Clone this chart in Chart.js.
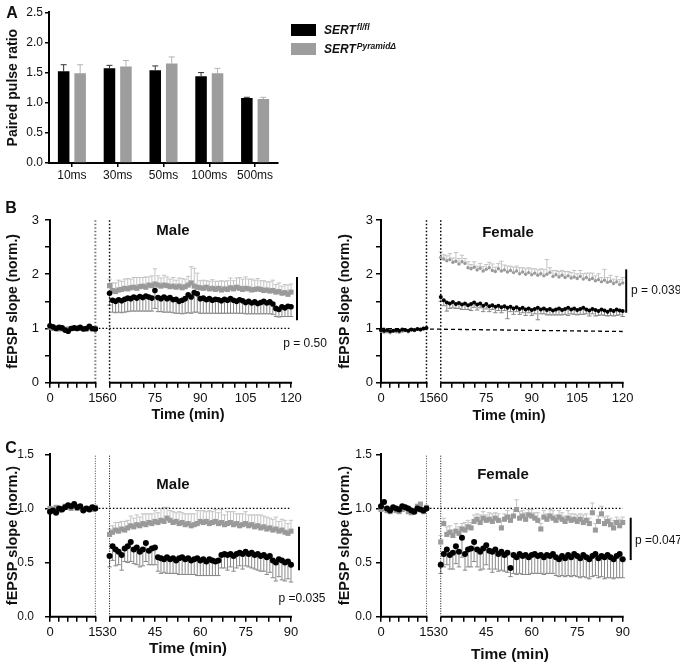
<!DOCTYPE html>
<html>
<head>
<meta charset="utf-8">
<title>Paired pulse ratio and fEPSP slope</title>
<script src="https://cdn.jsdelivr.net/npm/chart.js@4.4.1/dist/chart.umd.min.js"></script>
<style>
  html, body { margin: 0; background: #fff; }
  #fig { position: relative; width: 680px; height: 662px; overflow: hidden;
         font-family: "Liberation Sans", Arial, sans-serif; color: #111; }
  #fig canvas { position: absolute; }
  .c { position: absolute; white-space: nowrap; transform: translate(-50%, -50%); line-height: 1; }
  .l { position: absolute; white-space: nowrap; transform: translateY(-50%); line-height: 1; }
  .panel { font-size: 16px; font-weight: bold; }
  .sex { font-size: 15px; font-weight: bold; }
  .time { font-weight: bold; }
  .p { font-size: 12px; }
  #legend { position: absolute; left: 291px; top: 24px; }
  .leg-item { display: flex; align-items: center; height: 12px; margin-bottom: 7px; }
  .leg-box { width: 25px; height: 12px; margin-right: 8px; }
  .leg-text { font: italic bold 12px "Liberation Sans", Arial, sans-serif; }
  .leg-text span { font-size: 8.5px; position: relative; top: -4px; margin-left: 1px; }
</style>
</head>
<body>
<div id="fig">
  <canvas id="chartA"  width="300" height="190" style="left:0;top:0"></canvas>
  <canvas id="chartBm" width="340" height="235" style="left:0;top:190px"></canvas>
  <canvas id="chartBf" width="350" height="235" style="left:330px;top:190px"></canvas>
  <canvas id="chartCm" width="340" height="237" style="left:0;top:425px"></canvas>
  <canvas id="chartCf" width="350" height="237" style="left:330px;top:425px"></canvas>

  <div id="legend"></div>

  <div class="c panel" style="left:12px;top:13px">A</div>
  <div class="c panel" style="left:11px;top:208px">B</div>
  <div class="c panel" style="left:11px;top:448px">C</div>

  <div class="c sex" style="left:173px;top:229px">Male</div>
  <div class="c sex" style="left:508px;top:231px">Female</div>
  <div class="c sex" style="left:173px;top:483px">Male</div>
  <div class="c sex" style="left:503px;top:473px">Female</div>

  <div class="c time" style="left:188px;top:414px;font-size:14.5px">Time (min)</div>
  <div class="c time" style="left:509px;top:415px;font-size:14.5px">Time (min)</div>
  <div class="c time" style="left:188px;top:648px;font-size:15.5px">Time (min)</div>
  <div class="c time" style="left:510px;top:654px;font-size:15.5px">Time (min)</div>

  <div class="c p" style="left:305px;top:343px">p = 0.50</div>
  <div class="l p" style="left:631px;top:290px">p = 0.039</div>
  <div class="c p" style="left:302px;top:598px">p =0.035</div>
  <div class="l p" style="left:635px;top:540px">p =0.047</div>
</div>

<script>
'use strict';

// ── DATA: PANEL A (paired pulse ratio) ───────────────────────

const INTERVALS  = ['10ms', '30ms', '50ms', '100ms', '500ms'];
const PPR_FL     = [1.52, 1.57, 1.54, 1.44, 1.08];
const PPR_FL_SEM = [0.11, 0.05, 0.07, 0.06, 0.01];
const PPR_KO     = [1.49, 1.60, 1.65, 1.49, 1.06];
const PPR_KO_SEM = [0.14, 0.10, 0.11, 0.08, 0.03];

const GENOTYPES = [
  { name: 'SERT', sup: 'fl/fl',    color: '#000000' },
  { name: 'SERT', sup: 'PyramidΔ', color: '#9d9d9d' },
];

// ── DATA: TIME AXES ──────────────────────────────────────────

const BASE_T = [0, 1, 2, 3, 4, 5, 6, 7, 8, 9, 10, 11, 12, 13, 14, 15];
const POST_T_B = [60, 61, 62, 63, 64, 65, 66, 67, 68, 69, 70, 71, 72, 73, 74, 75, 76, 77, 78, 79, 80,
  81, 82, 83, 84, 85, 86, 87, 88, 89, 90, 91, 92, 93, 94, 95, 96, 97, 98, 99, 100,
  101, 102, 103, 104, 105, 106, 107, 108, 109, 110, 111, 112, 113, 114, 115, 116, 117, 118, 119, 120];
const POST_T_C = [30, 31, 32, 33, 34, 35, 36, 37, 38, 39, 40, 41, 42, 43, 44, 45, 46, 47, 48, 49, 50,
  51, 52, 53, 54, 55, 56, 57, 58, 59, 60, 61, 62, 63, 64, 65, 66, 67, 68, 69, 70,
  71, 72, 73, 74, 75, 76, 77, 78, 79, 80, 81, 82, 83, 84, 85, 86, 87, 88, 89, 90];

const BASE_XTICKS = [0, 3, 6, 9, 12, 15];
const B_XTICKS = [60, 63.75, 67.5, 71.25, 75, 78.75, 82.5, 86.25, 90, 93.75, 97.5, 101.25, 105, 108.75, 112.5, 116.25, 120];
const C_XTICKS = [30, 33.75, 37.5, 41.25, 45, 48.75, 52.5, 56.25, 60, 63.75, 67.5, 71.25, 75, 78.75, 82.5, 86.25, 90];
const B_XLABELS = [0, 15, 60, 75, 90, 105, 120];
const C_XLABELS = [0, 15, 30, 45, 60, 75, 90];

// ── DATA: PANEL B, MALE ──────────────────────────────────────

const BM_FL_BASE = [1.05, 1.03, 1.00, 1.02, 1.01, 0.97, 0.95, 1.00, 1.01, 1.00, 1.02, 0.99, 1.00, 1.04, 1.00, 0.99];
const BM_KO_BASE = [1.02, 1.00, 1.01, 0.99, 1.00, 0.98, 0.99, 1.00, 1.00, 1.01, 1.00, 1.00, 0.99, 1.01, 0.99, 1.00];
const BM_FL_POST = [
  1.65, 1.52, 1.50, 1.53, 1.51, 1.54, 1.56, 1.55, 1.58, 1.56,
  1.59, 1.57, 1.60, 1.58, 1.56, 1.70, 1.57, 1.55, 1.58, 1.55,
  1.57, 1.53, 1.54, 1.50, 1.52, 1.55, 1.62, 1.58, 1.66, 1.64,
  1.55, 1.56, 1.53, 1.55, 1.52, 1.54, 1.53, 1.51, 1.54, 1.52,
  1.55, 1.52, 1.50, 1.53, 1.51, 1.48, 1.50, 1.47, 1.49, 1.46,
  1.48, 1.50, 1.47, 1.49, 1.45, 1.37, 1.35, 1.40, 1.38, 1.41, 1.40];
const BM_FL_SEM = [
  0.22, 0.22, 0.21, 0.23, 0.22, 0.24, 0.25, 0.23, 0.26, 0.24,
  0.27, 0.25, 0.28, 0.26, 0.24, 0.33, 0.26, 0.24, 0.28, 0.25,
  0.27, 0.24, 0.26, 0.22, 0.25, 0.27, 0.33, 0.30, 0.36, 0.34,
  0.27, 0.28, 0.25, 0.27, 0.24, 0.26, 0.25, 0.23, 0.26, 0.24,
  0.27, 0.24, 0.22, 0.25, 0.23, 0.21, 0.23, 0.20, 0.22, 0.19,
  0.21, 0.23, 0.20, 0.22, 0.19, 0.15, 0.14, 0.18, 0.16, 0.19, 0.18];
const BM_KO_POST = [
  1.79, 1.70, 1.68, 1.71, 1.72, 1.74, 1.73, 1.75, 1.76, 1.74,
  1.77, 1.78, 1.76, 1.80, 1.79, 1.82, 1.80, 1.78, 1.80, 1.79,
  1.77, 1.78, 1.76, 1.78, 1.75, 1.77, 1.80, 1.84, 1.78, 1.76,
  1.75, 1.74, 1.76, 1.73, 1.74, 1.72, 1.74, 1.71, 1.73, 1.72,
  1.75, 1.73, 1.76, 1.74, 1.72, 1.74, 1.73, 1.71, 1.72, 1.73,
  1.72, 1.70, 1.71, 1.69, 1.70, 1.67, 1.68, 1.65, 1.66, 1.63, 1.67];
const BM_KO_SEM = [
  0.12, 0.14, 0.16, 0.18, 0.15, 0.17, 0.19, 0.16, 0.18, 0.20,
  0.17, 0.16, 0.19, 0.15, 0.18, 0.28, 0.17, 0.15, 0.18, 0.16,
  0.14, 0.16, 0.13, 0.15, 0.17, 0.14, 0.16, 0.30, 0.33, 0.26,
  0.13, 0.15, 0.12, 0.14, 0.16, 0.15, 0.13, 0.17, 0.14, 0.16,
  0.18, 0.15, 0.17, 0.20, 0.19, 0.21, 0.18, 0.20, 0.17, 0.19,
  0.16, 0.18, 0.15, 0.17, 0.19, 0.14, 0.16, 0.13, 0.15, 0.17, 0.15];
const BM_REF_T = [15, 120];
const BM_REF_V = [1.0, 1.0];
const BM_PBAR  = [1.95, 1.15];

// ── DATA: PANEL B, FEMALE ────────────────────────────────────

const BF_FL_BASE = [0.97, 0.96, 0.97, 0.95, 0.96, 0.97, 0.96, 0.98, 0.97, 0.96, 0.98, 0.97, 0.99, 0.98, 1.00, 1.01];
const BF_KO_BASE = [0.95, 0.93, 0.94, 0.92, 0.95, 0.94, 0.93, 0.95, 0.96, 0.94, 0.97, 0.96, 0.98, 0.97, 0.99, 1.02];
const BF_FL_POST = [
  1.58, 1.52, 1.48, 1.46, 1.49, 1.45, 1.47, 1.44, 1.46, 1.43,
  1.45, 1.48, 1.44, 1.46, 1.42, 1.45, 1.41, 1.43, 1.40, 1.42,
  1.39, 1.41, 1.38, 1.40, 1.37, 1.39, 1.36, 1.38, 1.35, 1.37,
  1.34, 1.36, 1.38, 1.35, 1.37, 1.34, 1.36, 1.33, 1.35, 1.37,
  1.34, 1.36, 1.38, 1.35, 1.37, 1.34, 1.36, 1.38, 1.35, 1.33,
  1.36, 1.34, 1.32, 1.35, 1.33, 1.31, 1.34, 1.32, 1.35, 1.33, 1.32];
const BF_FL_SEM = [
  0.08, 0.10, 0.16, 0.09, 0.11, 0.08, 0.10, 0.09, 0.11, 0.08,
  0.12, 0.09, 0.10, 0.08, 0.11, 0.09, 0.10, 0.08, 0.11, 0.09,
  0.10, 0.08, 0.20, 0.09, 0.11, 0.08, 0.10, 0.09, 0.11, 0.08,
  0.10, 0.09, 0.22, 0.08, 0.10, 0.09, 0.11, 0.08, 0.10, 0.12,
  0.09, 0.10, 0.14, 0.08, 0.11, 0.09, 0.10, 0.12, 0.08, 0.10,
  0.09, 0.11, 0.08, 0.10, 0.09, 0.08, 0.10, 0.09, 0.11, 0.08, 0.10];
const BF_KO_POST = [
  2.31, 2.28, 2.25, 2.27, 2.22, 2.24, 2.19, 2.23, 2.20, 2.12,
  2.10, 2.13, 2.08, 2.11, 2.06, 2.09, 2.12, 2.07, 2.05, 2.10,
  2.06, 2.08, 2.04, 2.07, 2.03, 2.06, 2.01, 2.04, 2.00, 2.03,
  1.99, 2.02, 1.98, 2.01, 1.97, 2.00, 2.03, 1.96, 1.99, 1.95,
  1.98, 1.94, 1.97, 1.93, 1.95, 1.92, 1.96, 1.91, 1.94, 1.90,
  1.92, 1.88, 1.90, 1.86, 1.89, 1.85, 1.87, 1.83, 1.86, 1.81, 1.84];
const BF_KO_SEM = [
  0.10, 0.08, 0.09, 0.11, 0.08, 0.16, 0.10, 0.12, 0.09, 0.11,
  0.08, 0.10, 0.07, 0.09, 0.08, 0.09, 0.10, 0.12, 0.08, 0.10,
  0.18, 0.09, 0.11, 0.08, 0.10, 0.09, 0.11, 0.08, 0.10, 0.09,
  0.11, 0.08, 0.10, 0.09, 0.12, 0.27, 0.09, 0.11, 0.08, 0.10,
  0.09, 0.11, 0.08, 0.10, 0.12, 0.09, 0.11, 0.10, 0.08, 0.12,
  0.10, 0.09, 0.11, 0.08, 0.20, 0.09, 0.11, 0.08, 0.10, 0.09, 0.10];
const BF_REF_T = [0, 120];
const BF_REF_V = [1.0, 0.944];
const BF_PBAR  = [2.09, 1.29];

// ── DATA: PANEL C, MALE ──────────────────────────────────────

const CM_FL_BASE = [0.97, 0.98, 0.96, 1.00, 0.99, 1.01, 1.03, 1.02, 1.04, 1.01, 1.02, 0.98, 1.00, 0.99, 1.01, 1.00];
const CM_KO_BASE = [1.00, 0.99, 1.01, 0.98, 1.00, 1.02, 1.01, 1.00, 1.02, 1.00, 1.01, 0.99, 1.00, 1.00, 0.99, 1.01];
const CM_FL_POST = [
  0.56, 0.65, 0.62, 0.60, 0.57, 0.63, 0.65, 0.69, 0.62, 0.64,
  0.60, 0.62, 0.68, 0.61, 0.63, 0.64, 0.55, 0.54, 0.53, 0.55,
  0.53, 0.54, 0.52, 0.54, 0.55, 0.53, 0.54, 0.52, 0.53, 0.54,
  0.52, 0.53, 0.51, 0.53, 0.52, 0.51, 0.52, 0.57, 0.58, 0.57,
  0.58, 0.56, 0.58, 0.59, 0.58, 0.60, 0.58, 0.59, 0.57, 0.58,
  0.56, 0.57, 0.55, 0.56, 0.52, 0.50, 0.53, 0.52, 0.50, 0.51, 0.48];
const CM_FL_SEM = [
  0.10, 0.13, 0.15, 0.12, 0.14, 0.12, 0.15, 0.18, 0.13, 0.16,
  0.14, 0.15, 0.17, 0.13, 0.15, 0.16, 0.13, 0.14, 0.12, 0.15,
  0.13, 0.14, 0.12, 0.15, 0.16, 0.14, 0.15, 0.13, 0.14, 0.16,
  0.14, 0.15, 0.13, 0.15, 0.14, 0.13, 0.14, 0.12, 0.13, 0.14,
  0.12, 0.14, 0.13, 0.12, 0.14, 0.13, 0.12, 0.14, 0.13, 0.15,
  0.14, 0.15, 0.16, 0.15, 0.16, 0.17, 0.16, 0.18, 0.17, 0.16, 0.16];
const CM_KO_POST = [
  0.76, 0.78, 0.80, 0.79, 0.81, 0.80, 0.82, 0.84, 0.83, 0.85,
  0.84, 0.86, 0.85, 0.87, 0.86, 0.88, 0.87, 0.89, 0.88, 0.91,
  0.89, 0.87, 0.88, 0.86, 0.87, 0.85, 0.86, 0.84, 0.85, 0.86,
  0.88, 0.87, 0.88, 0.86, 0.87, 0.88, 0.86, 0.87, 0.85, 0.86,
  0.87, 0.85, 0.86, 0.84, 0.85, 0.86, 0.84, 0.85, 0.83, 0.84,
  0.82, 0.83, 0.81, 0.82, 0.80, 0.81, 0.79, 0.80, 0.78, 0.77, 0.79];
const CM_KO_SEM = [
  0.05, 0.06, 0.07, 0.08, 0.07, 0.08, 0.07, 0.09, 0.08, 0.09,
  0.08, 0.09, 0.10, 0.08, 0.09, 0.10, 0.09, 0.11, 0.13, 0.10,
  0.09, 0.10, 0.08, 0.11, 0.09, 0.10, 0.09, 0.11, 0.10, 0.12,
  0.10, 0.11, 0.09, 0.12, 0.10, 0.11, 0.10, 0.12, 0.09, 0.11,
  0.10, 0.12, 0.09, 0.11, 0.10, 0.11, 0.10, 0.09, 0.11, 0.10,
  0.12, 0.10, 0.11, 0.09, 0.10, 0.11, 0.09, 0.10, 0.11, 0.09, 0.10];
const CM_REF_T = [15, 90];
const CM_REF_V = [1.0, 1.0];
const CM_PBAR  = [0.83, 0.43];

// ── DATA: PANEL C, FEMALE ────────────────────────────────────

const CF_FL_BASE = [1.02, 1.06, 1.00, 0.98, 1.01, 1.00, 0.99, 1.02, 1.01, 1.00, 0.98, 0.97, 1.00, 0.99, 0.98, 1.00];
const CF_KO_BASE = [0.99, 1.00, 0.98, 0.97, 1.00, 0.98, 0.97, 0.99, 1.00, 0.97, 0.96, 0.98, 1.02, 1.04, 0.97, 1.01];
const CF_FL_POST = [
  0.48, 0.58, 0.62, 0.57, 0.59, 0.65, 0.60, 0.73, 0.58, 0.62,
  0.63, 0.69, 0.62, 0.60, 0.63, 0.66, 0.61, 0.60, 0.62, 0.58,
  0.60, 0.57, 0.59, 0.45, 0.57, 0.55, 0.58, 0.56, 0.57, 0.55,
  0.57, 0.58, 0.56, 0.57, 0.55, 0.57, 0.56, 0.58, 0.55, 0.53,
  0.56, 0.54, 0.57, 0.55, 0.58, 0.56, 0.54, 0.57, 0.55, 0.53,
  0.56, 0.58, 0.54, 0.56, 0.55, 0.57, 0.55, 0.53, 0.56, 0.58, 0.53];
const CF_FL_SEM = [
  0.08, 0.12, 0.14, 0.13, 0.15, 0.16, 0.14, 0.18, 0.15, 0.16,
  0.17, 0.18, 0.16, 0.17, 0.19, 0.18, 0.17, 0.19, 0.18, 0.16,
  0.17, 0.15, 0.18, 0.08, 0.17, 0.16, 0.18, 0.17, 0.18, 0.16,
  0.17, 0.18, 0.16, 0.17, 0.16, 0.17, 0.16, 0.18, 0.17, 0.16,
  0.18, 0.17, 0.19, 0.18, 0.20, 0.19, 0.18, 0.20, 0.19, 0.18,
  0.19, 0.20, 0.18, 0.19, 0.20, 0.21, 0.19, 0.18, 0.20, 0.22, 0.17];
const CF_KO_POST = [
  0.69, 0.86, 0.76, 0.78, 0.75, 0.79, 0.77, 0.81, 0.80, 0.83,
  0.82, 0.88, 0.90, 0.87, 0.91, 0.89, 0.90, 0.88, 0.91, 0.89,
  0.82, 0.90, 0.92, 0.89, 0.93, 0.99, 0.91, 0.93, 0.90, 0.94,
  0.93, 0.91, 0.89, 0.81, 0.92, 0.90, 0.93, 0.91, 0.89, 0.92,
  0.90, 0.88, 0.91, 0.89, 0.90, 0.88, 0.90, 0.87, 0.89, 0.86,
  0.96, 0.80, 0.88, 0.95, 0.86, 0.88, 0.85, 0.82, 0.87, 0.84, 0.87];
const CF_KO_SEM = [
  0.06, 0.05, 0.07, 0.06, 0.05, 0.07, 0.06, 0.05, 0.07, 0.06,
  0.05, 0.06, 0.05, 0.07, 0.06, 0.05, 0.06, 0.07, 0.05, 0.06,
  0.07, 0.05, 0.06, 0.05, 0.06, 0.09, 0.06, 0.05, 0.06, 0.05,
  0.06, 0.05, 0.07, 0.05, 0.06, 0.05, 0.06, 0.07, 0.05, 0.06,
  0.06, 0.05, 0.07, 0.06, 0.05, 0.06, 0.05, 0.07, 0.06, 0.05,
  0.09, 0.06, 0.05, 0.07, 0.06, 0.05, 0.06, 0.07, 0.05, 0.06, 0.05];
const CF_REF_T = [15, 90];
const CF_REF_V = [1.0, 1.0];
const CF_PBAR  = [0.914, 0.523];

// ── DEFAULTS ─────────────────────────────────────────────────

Chart.defaults.font.family = '"Liberation Sans", Arial, sans-serif';
Chart.defaults.color = '#111';

const GAP = 4.7;          // blank minutes drawn between the baseline and the post segment
const INK = '#000000';
const GREY = '#9a9a9a';

// ── PLUGINS ──────────────────────────────────────────────────

// one-sided SEM bars, read from dataset.sem
const errorBars = {
  id: 'errorBars',
  beforeDatasetsDraw(chart) {
    const ctx = chart.ctx;
    chart.data.datasets.forEach((ds, di) => {
      if (!ds.sem) return;
      const meta = chart.getDatasetMeta(di);
      const ys = chart.scales[meta.yAxisID];
      ctx.save();
      ctx.strokeStyle = ds.errColor;
      ctx.lineWidth = 1;
      meta.data.forEach((el, i) => {
        const s = ds.sem[i];
        if (s == null) return;
        const d = ds.data[i];
        const v = typeof d === 'object' ? d.y : d;
        const y1 = ys.getPixelForValue(v + ds.errDir * s);
        ctx.beginPath();
        ctx.moveTo(el.x, el.y);
        ctx.lineTo(el.x, y1);
        ctx.moveTo(el.x - ds.capW, y1);
        ctx.lineTo(el.x + ds.capW, y1);
        ctx.stroke();
      });
      ctx.restore();
    });
  },
};

// x axis split in two pieces, plus the significance bar at the right
const brokenAxis = {
  id: 'brokenAxis',
  afterDraw(chart, args, opts) {
    const { ctx, chartArea } = chart;
    const xs = chart.scales.x, ys = chart.scales.y;
    ctx.save();
    ctx.strokeStyle = INK;
    ctx.lineWidth = 2;
    opts.segments.forEach(([a, b], i) => {
      ctx.beginPath();
      ctx.moveTo(xs.getPixelForValue(a) - (i === 0 ? 1 : 0), chartArea.bottom);
      ctx.lineTo(xs.getPixelForValue(b) + 1, chartArea.bottom);
      ctx.stroke();
    });
    const bx = chartArea.right + opts.pDx;
    ctx.beginPath();
    ctx.moveTo(bx, ys.getPixelForValue(opts.pBar[0]));
    ctx.lineTo(bx, ys.getPixelForValue(opts.pBar[1]));
    ctx.stroke();
    ctx.restore();
  },
};

// ── LEGEND ───────────────────────────────────────────────────

const legendEl = document.getElementById('legend');
GENOTYPES.forEach(g => {
  const row = document.createElement('div');
  row.className = 'leg-item';
  row.innerHTML = `<div class="leg-box" style="background:${g.color}"></div>
    <div class="leg-text">${g.name}<span>${g.sup}</span></div>`;
  legendEl.appendChild(row);
});

// ── PANEL A ──────────────────────────────────────────────────

new Chart(document.getElementById('chartA'), {
  type: 'bar',
  data: {
    labels: INTERVALS,
    datasets: [
      { data: PPR_FL, backgroundColor: GENOTYPES[0].color, sem: PPR_FL_SEM, errDir: 1, errColor: '#333', capW: 3,
        categoryPercentage: 0.72, barPercentage: 0.7 },
      { data: PPR_KO, backgroundColor: GENOTYPES[1].color, sem: PPR_KO_SEM, errDir: 1, errColor: '#b4b4b4', capW: 3,
        categoryPercentage: 0.72, barPercentage: 0.7 },
    ],
  },
  options: {
    responsive: false, animation: false, events: [], devicePixelRatio: 1,
    layout: { padding: { top: 12.3, right: 22, bottom: 5, left: 0 } },
    plugins: { legend: { display: false }, tooltip: { enabled: false } },
    scales: {
      x: {
        grid: { offset: false, drawOnChartArea: false, color: INK, lineWidth: 1.5, tickLength: 4 },
        border: { color: INK, width: 2 },
        ticks: { font: { size: 12 }, padding: 1, maxRotation: 0 },
        afterFit: s => { s.height = 22; s.paddingLeft = 0; s.paddingRight = 0; },
      },
      y: {
        min: 0, max: 2.5,
        ticks: { stepSize: 0.5, callback: v => v.toFixed(1), font: { size: 12 }, padding: 2 },
        grid: { drawOnChartArea: false, color: INK, lineWidth: 1.5, tickLength: 4 },
        border: { color: INK, width: 2 },
        title: { display: true, text: 'Paired pulse ratio', font: { size: 14, weight: 'bold' }, padding: { top: 5, bottom: 0 } },
        afterFit: s => { s.width = 49; s.paddingTop = 0; s.paddingBottom = 0; },
      },
    },
  },
  plugins: [errorBars],
});

// ── TIME-COURSE PANELS ───────────────────────────────────────

function timePanel(id, p) {
  const t0 = p.postT[0];
  const span = 15 + GAP + (p.postT[p.postT.length - 1] - t0);
  const mapX = t => (t <= 15 ? t : 15 + GAP + (t - t0));
  const pts = (times, vals) => times.map((t, i) => ({ x: mapX(t), y: vals[i] }));
  const allTicks = BASE_XTICKS.concat(p.xTicks);
  const tickVals = allTicks.map(mapX);
  const tickText = allTicks.map(t => (p.xLabels.includes(t) ? String(t) : ''));

  const series = (s, style) => Object.assign({
    data: pts(BASE_T, s.base).concat(pts(p.postT, s.post)),
    sem: BASE_T.map(() => null).concat(s.sem),
    borderWidth: 0, clip: false,
  }, style);

  const vline = (t, color, width, dash) => ({
    data: [{ x: mapX(t), y: 0 }, { x: mapX(t), y: p.yMax }],
    showLine: true, pointRadius: 0, borderColor: color, borderWidth: width, borderDash: dash, clip: false,
  });

  new Chart(document.getElementById(id), {
    type: 'scatter',
    data: {
      datasets: [
        series(p.fl, { pointStyle: 'circle', pointRadius: p.flR, backgroundColor: INK, borderColor: INK,
          errDir: -1, errColor: '#888', capW: 2.2 }),
        series(p.ko, { pointStyle: p.koStyle, pointRadius: p.koR, backgroundColor: GREY, borderColor: GREY,
          errDir: 1, errColor: '#c4c4c4', capW: 2.2 }),
        { data: pts(p.refT, p.refV), showLine: true, pointRadius: 0, borderColor: INK, borderWidth: 1.3,
          borderDash: p.refDash, clip: false },
        vline(15, p.v1Color, p.v1Width, p.vDash),
        vline(t0, INK, p.v2Width, p.vDash),
      ],
    },
    options: {
      responsive: false, animation: false, events: [], devicePixelRatio: 1,
      layout: { padding: p.pad },
      plugins: {
        legend: { display: false }, tooltip: { enabled: false },
        brokenAxis: { segments: [[0, 15], [15 + GAP, span]], pBar: p.pBar, pDx: p.pDx },
      },
      scales: {
        x: {
          type: 'linear', min: 0, max: span,
          border: { display: false },
          grid: { drawOnChartArea: false, color: INK, lineWidth: 1.5, tickLength: 5 },
          ticks: { autoSkip: false, maxRotation: 0, minRotation: 0, font: { size: 13 }, padding: 3,
            callback: (v, i) => tickText[i] },
          afterBuildTicks: s => { s.ticks = tickVals.map(v => ({ value: v })); },
          afterFit: s => { s.height = 30; s.paddingLeft = 0; s.paddingRight = 0; },
        },
        y: {
          min: 0, max: p.yMax,
          ticks: { stepSize: 0.5, callback: p.yFmt, font: { size: p.yFont }, padding: p.yPad },
          grid: { drawOnChartArea: false, color: INK, lineWidth: 1.5, tickLength: 5 },
          border: { color: INK, width: 2 },
          title: { display: true, text: 'fEPSP slope (norm.)', font: { size: p.titleSize, weight: 'bold' },
            padding: { top: p.titlePad, bottom: 0 } },
          afterFit: s => { s.width = p.yW; s.paddingTop = 0; s.paddingBottom = 0; },
        },
      },
    },
    plugins: [errorBars, brokenAxis],
  });
}

const intLabel = v => (Number.isInteger(v) ? String(v) : '');
const oneDecimal = v => v.toFixed(1);

timePanel('chartBm', {
  postT: POST_T_B, xTicks: B_XTICKS, xLabels: B_XLABELS,
  fl: { base: BM_FL_BASE, post: BM_FL_POST, sem: BM_FL_SEM },
  ko: { base: BM_KO_BASE, post: BM_KO_POST, sem: BM_KO_SEM },
  flR: 2.8, koR: 3.6, koStyle: 'rect',
  refT: BM_REF_T, refV: BM_REF_V, refDash: [1.5, 2],
  v1Color: '#777', v1Width: 2, v2Width: 1.5, vDash: [1.5, 2],
  pBar: BM_PBAR, pDx: 6,
  yMax: 3, yFmt: intLabel, yFont: 13, yPad: 6, yW: 50, titleSize: 14, titlePad: 4.6,
  pad: { top: 30, right: 49, bottom: 12.3, left: 0 },
});

timePanel('chartBf', {
  postT: POST_T_B, xTicks: B_XTICKS, xLabels: B_XLABELS,
  fl: { base: BF_FL_BASE, post: BF_FL_POST, sem: BF_FL_SEM },
  ko: { base: BF_KO_BASE, post: BF_KO_POST, sem: BF_KO_SEM },
  flR: 2, koR: 1.7, koStyle: 'circle',
  refT: BF_REF_T, refV: BF_REF_V, refDash: [4, 3],
  v1Color: INK, v1Width: 1.5, v2Width: 1.5, vDash: [1.5, 2],
  pBar: BF_PBAR, pDx: 3.5,
  yMax: 3, yFmt: intLabel, yFont: 13, yPad: 3, yW: 51, titleSize: 14, titlePad: 6.6,
  pad: { top: 30, right: 57.3, bottom: 12.3, left: 0 },
});

timePanel('chartCm', {
  postT: POST_T_C, xTicks: C_XTICKS, xLabels: C_XLABELS,
  fl: { base: CM_FL_BASE, post: CM_FL_POST, sem: CM_FL_SEM },
  ko: { base: CM_KO_BASE, post: CM_KO_POST, sem: CM_KO_SEM },
  flR: 3, koR: 3.6, koStyle: 'rect',
  refT: CM_REF_T, refV: CM_REF_V, refDash: [1.5, 2],
  v1Color: '#444', v1Width: 1, v2Width: 1, vDash: [1, 1.5],
  pBar: CM_PBAR, pDx: 8,
  yMax: 1.5, yFmt: oneDecimal, yFont: 12, yPad: 11, yW: 50, titleSize: 14.5, titlePad: 4.3,
  pad: { top: 29.3, right: 49, bottom: 15.3, left: 0 },
});

timePanel('chartCf', {
  postT: POST_T_C, xTicks: C_XTICKS, xLabels: C_XLABELS,
  fl: { base: CF_FL_BASE, post: CF_FL_POST, sem: CF_FL_SEM },
  ko: { base: CF_KO_BASE, post: CF_KO_POST, sem: CF_KO_SEM },
  flR: 3, koR: 3.6, koStyle: 'rect',
  refT: CF_REF_T, refV: CF_REF_V, refDash: [1.5, 2],
  v1Color: '#444', v1Width: 1, v2Width: 1, vDash: [1, 1.5],
  pBar: CF_PBAR, pDx: 8,
  yMax: 1.5, yFmt: oneDecimal, yFont: 12, yPad: 4, yW: 51, titleSize: 14.5, titlePad: 6.3,
  pad: { top: 29.3, right: 57.3, bottom: 15.3, left: 0 },
});
</script>
</body>
</html>
